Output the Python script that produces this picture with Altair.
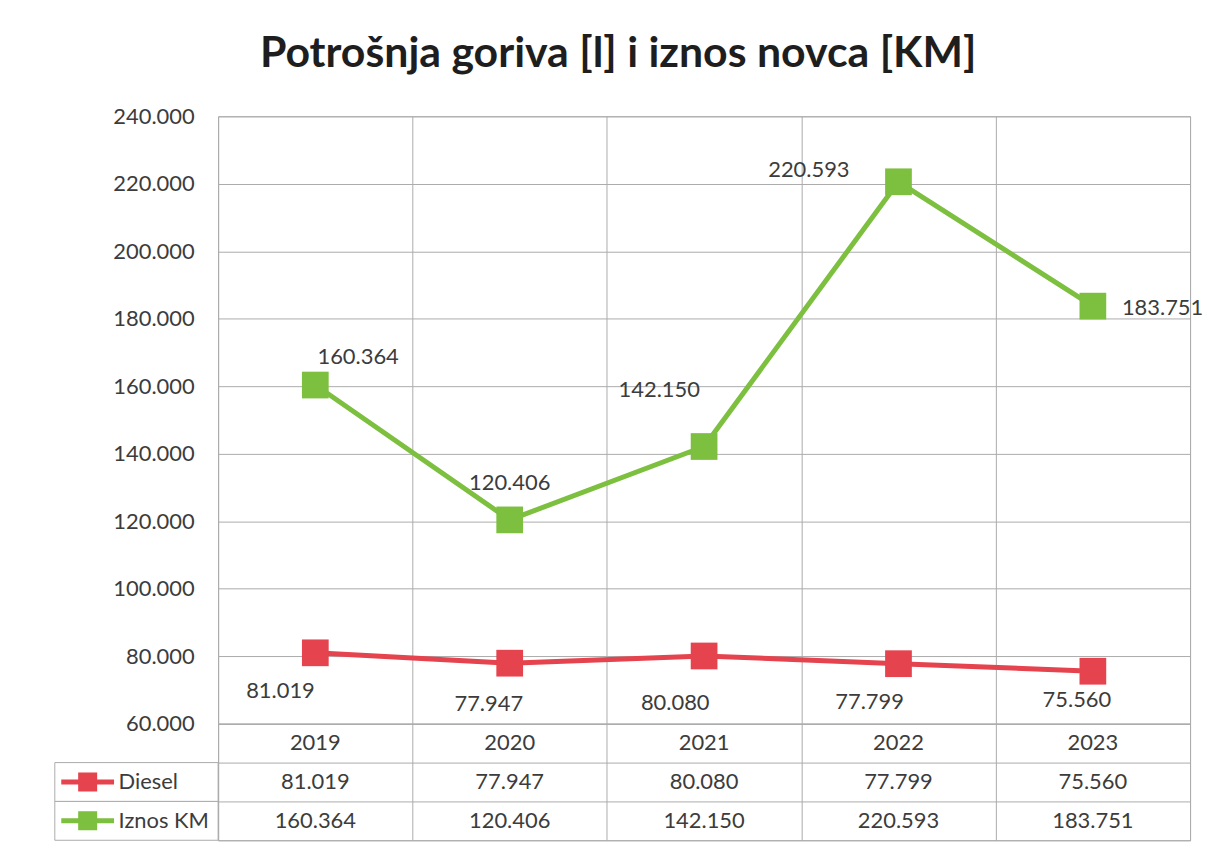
import altair as alt
import pandas as pd

# ---------------- data ----------------
years = ["2019", "2020", "2021", "2022", "2023"]
diesel = [81019, 77947, 80080, 77799, 75560]
iznos_km = [160364, 120406, 142150, 220593, 183751]
series_names = ["Diesel", "Iznos KM"]
y_ticks = [60000, 80000, 100000, 120000, 140000, 160000, 180000, 200000, 220000, 240000]
title_text = "Potrošnja goriva [l] i iznos novca [KM]"

# ---------------- style ----------------
series_colors = ["#E5434E", "#7DBF3F"]
FONT = "Lato"
TEXT = "#3C3C3C"
GRID = "#ABABAB"
W = 976          # plot width (5 columns)
H = 610          # plot height
ROW = 39         # table row height
LEG_W = 164      # legend column width
FS = 22

# label offsets (dx, dy) relative to the marker, per series and year
label_offsets = {
    "Diesel": [(-35, 38), (-21, 41), (-29, 47), (-29, 39), (-16, 29)],
    "Iznos KM": [(43, -28), (0, -37), (-45, -57), (-90, -12), (70, 2)],
}


def fmt(v):
    return f"{v:,}".replace(",", ".")


rows = []
for name, vals in zip(series_names, [diesel, iznos_km]):
    for yr, v in zip(years, vals):
        rows.append({"year": yr, "series": name, "value": v, "label": fmt(v)})
df = pd.DataFrame(rows)

xs = alt.Scale(type="band", domain=years, paddingInner=0, paddingOuter=0)
ys = alt.Scale(domain=[60000, 240000], nice=False, zero=False)
cs = alt.Scale(domain=series_names, range=series_colors)

base = alt.Chart(df).encode(
    x=alt.X(
        "year:N", scale=xs, bandPosition=0.5,
        axis=alt.Axis(title=None, grid=True, tickBand="extent", labels=False,
                      ticks=False, domain=False, gridColor=GRID, gridWidth=1),
    ),
    y=alt.Y(
        "value:Q", scale=ys,
        axis=alt.Axis(title=None, values=y_ticks, grid=True, gridColor=GRID, gridWidth=1,
                      ticks=False, domain=False, labels=False),
    ),
    color=alt.Color("series:N", scale=cs, legend=None),
)

lines = base.mark_line(strokeWidth=5, strokeJoin="round")
points = base.mark_point(shape="square", filled=True, size=720, opacity=1)

label_layers = []
for name in series_names:
    for i, yr in enumerate(years):
        dx, dy = label_offsets[name][i]
        label_layers.append(
            base.transform_filter((alt.datum.series == name) & (alt.datum.year == yr))
            .mark_text(dx=dx, dy=dy, font=FONT, fontSize=FS, align="center", baseline="middle")
            .encode(text="label:N", color=alt.value(TEXT))
        )

top = alt.layer(lines, points, *label_layers).properties(
    width=W, height=H, view=alt.ViewBackground(stroke=GRID, strokeWidth=1)
)

# y-axis labels live in the column to the left of the plot (above the legend column)
yaxis_col = alt.Chart(df).mark_point(opacity=0).encode(
    y=alt.Y("value:Q", scale=ys,
            axis=alt.Axis(title=None, values=y_ticks, grid=False, ticks=False, domain=False,
                          labelFont=FONT, labelFontSize=FS, labelColor=TEXT, labelPadding=24,
                          offset=-LEG_W,
                          labelExpr="replace(format(datum.value, ',.0f'), ',', '.')")),
).properties(width=LEG_W, height=H, view=alt.ViewBackground(stroke=None))

# ---------------- data table ----------------
table_rows = ["header"] + series_names
trows = []
for i, yr in enumerate(years):
    trows.append({"year": yr, "row": "header", "label": yr})
    trows.append({"year": yr, "row": "Diesel", "label": fmt(diesel[i])})
    trows.append({"year": yr, "row": "Iznos KM", "label": fmt(iznos_km[i])})
tdf = pd.DataFrame(trows)

rs = alt.Scale(type="band", domain=table_rows, paddingInner=0, paddingOuter=0)

table = alt.Chart(tdf).mark_text(font=FONT, fontSize=FS, color=TEXT, baseline="middle").encode(
    x=alt.X("year:N", scale=xs, bandPosition=0.5,
            axis=alt.Axis(title=None, grid=True, tickBand="extent", labels=False, ticks=False,
                          domain=False, gridColor=GRID, gridWidth=1)),
    y=alt.Y("row:N", scale=rs, bandPosition=0.5,
            axis=alt.Axis(title=None, grid=True, tickBand="extent", labels=False, ticks=False,
                          domain=False, gridColor=GRID, gridWidth=1)),
    text="label:N",
).properties(width=W, height=3 * ROW, view=alt.ViewBackground(stroke=GRID, strokeWidth=1))

leg_df = pd.DataFrame({"row": series_names, "series": series_names})
leg_base = alt.Chart(leg_df).encode(
    y=alt.Y("row:N", scale=rs, axis=None),
)
leg_cells = leg_base.mark_rect(fill="white", stroke=GRID, strokeWidth=1)
glyph = "M-1,-0.095H1V0.095H-1Z M-0.36,-0.36H0.36V0.36H-0.36Z"
leg_sym = leg_base.mark_point(shape=glyph, filled=True, size=53 * 53, opacity=1).encode(
    y=alt.Y("row:N", scale=rs, bandPosition=0.5, axis=None),
    x=alt.value(33),
    color=alt.Color("series:N", scale=cs, legend=None),
)
leg_txt = leg_base.mark_text(font=FONT, fontSize=FS, color=TEXT, align="left", baseline="middle").encode(
    y=alt.Y("row:N", scale=rs, bandPosition=0.5, axis=None),
    x=alt.value(64),
    text="row:N",
)
legend = alt.layer(leg_cells, leg_sym, leg_txt).properties(
    width=LEG_W, height=3 * ROW, view=alt.ViewBackground(stroke=None)
)

chart = alt.concat(yaxis_col, top, legend, table, columns=2, spacing=0, bounds="flush").properties(
    title=alt.TitleParams(title_text, font=FONT, fontSize=43, fontWeight="bold",
                          color="#1E1E1E", anchor="middle", dx=-11, offset=29),
    padding={"top": 24, "left": 46, "right": 0, "bottom": 0},
).configure_view(stroke=None)

chart.save("out.html", embed_options={"renderer": "svg", "actions": False})
